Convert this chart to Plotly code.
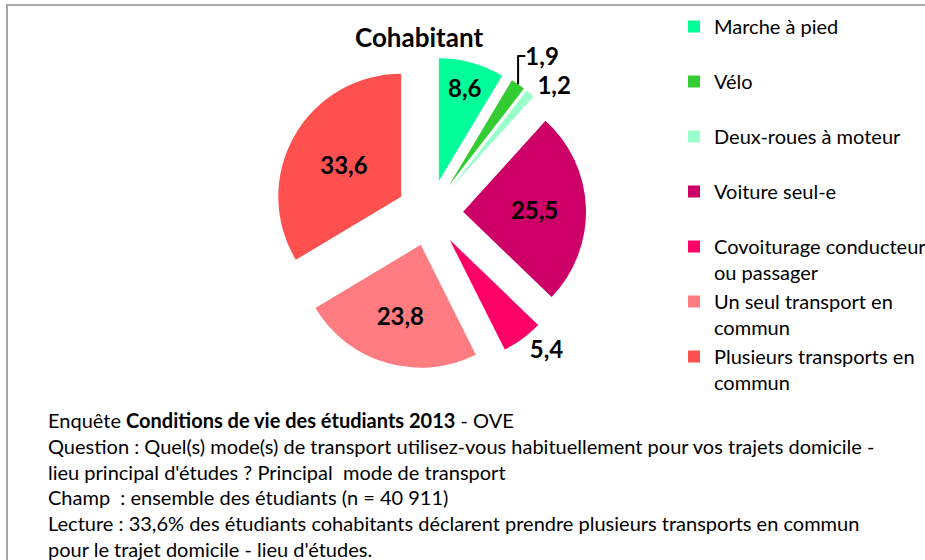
import plotly.graph_objects as go

categories = ["Marche à pied", "Vélo", "Deux-roues à moteur", "Voiture seul-e",
              "Covoiturage conducteur<br>ou passager", "Un seul transport en<br>commun",
              "Plusieurs transports en<br>commun"]
values = [8.6, 1.9, 1.2, 25.5, 5.4, 23.8, 33.6]
colors = ["#00FF99", "#33CC33", "#99FFCC", "#CC0066", "#FF0066", "#FF7C80", "#FF5050"]
text_positions = ["inside", "outside", "outside", "inside", "outside", "inside", "inside"]

title_text = "Cohabitant"
notes = [
    "Enquête <b>Conditions de vie des étudiants 2013</b> - OVE",
    "Question : Quel(s) mode(s) de transport utilisez-vous habituellement pour vos trajets domicile -",
    "lieu principal d'études ? Principal  mode de transport",
    "Champ  : ensemble des étudiants (n = 40 911)",
    "Lecture : 33,6% des étudiants cohabitants déclarent prendre plusieurs transports en commun",
    "pour le trajet domicile - lieu d'études.",
]

# pad single-line legend entries so all items have equal height
legend_labels = [c if "<br>" in c else c + "<br> " for c in categories]

W, H = 925, 560
fig = go.Figure(go.Pie(
    labels=legend_labels,
    values=values,
    sort=False,
    direction="clockwise",
    rotation=0,
    pull=[0.27] * len(values),
    marker=dict(colors=colors, line=dict(width=0)),
    texttemplate="%{value:.1f}",
    textposition=text_positions,
    insidetextorientation="horizontal",
    textfont=dict(family="Lato", size=24, color="black", weight="bold"),
    domain=dict(x=[274 / W, 586 / W], y=[1 - 369 / H, 1 - 57 / H]),
    hoverinfo="label+value",
))

annotations = [dict(text="<b>" + title_text + "</b>", x=419 / W, y=1 - 37 / H, xref="paper", yref="paper",
                    showarrow=False, font=dict(family="Lato", size=26, color="black"),
                    xanchor="center", yanchor="middle")]
for i, line in enumerate(notes):
    annotations.append(dict(text=line, x=46 / W, y=1 - (420 + i * 25.8) / H, xref="paper", yref="paper",
                            showarrow=False, font=dict(family="Lato", size=20, color="black"),
                            xanchor="left", yanchor="middle", align="left"))

fig.update_layout(
    width=W, height=H,
    margin=dict(l=0, r=0, t=0, b=0, autoexpand=False),
    paper_bgcolor="white",
    separators=", ",
    showlegend=True,
    legend=dict(x=674 / W, y=1 - 7 / H, xanchor="left", yanchor="top", valign="top",
                font=dict(family="Lato", size=20, color="black"), tracegroupgap=0,
                bgcolor="rgba(0,0,0,0)"),
    annotations=annotations,
    shapes=[dict(type="rect", xref="paper", yref="paper", x0=7 / W, x1=1.05, y0=-0.05, y1=1 - 5 / H,
                 line=dict(color="#a6a6a6", width=2), fillcolor="rgba(0,0,0,0)", layer="below")],
)

fig.write_html("out.html", post_script="document.body.style.margin='0';",
               config={"displayModeBar": False})
